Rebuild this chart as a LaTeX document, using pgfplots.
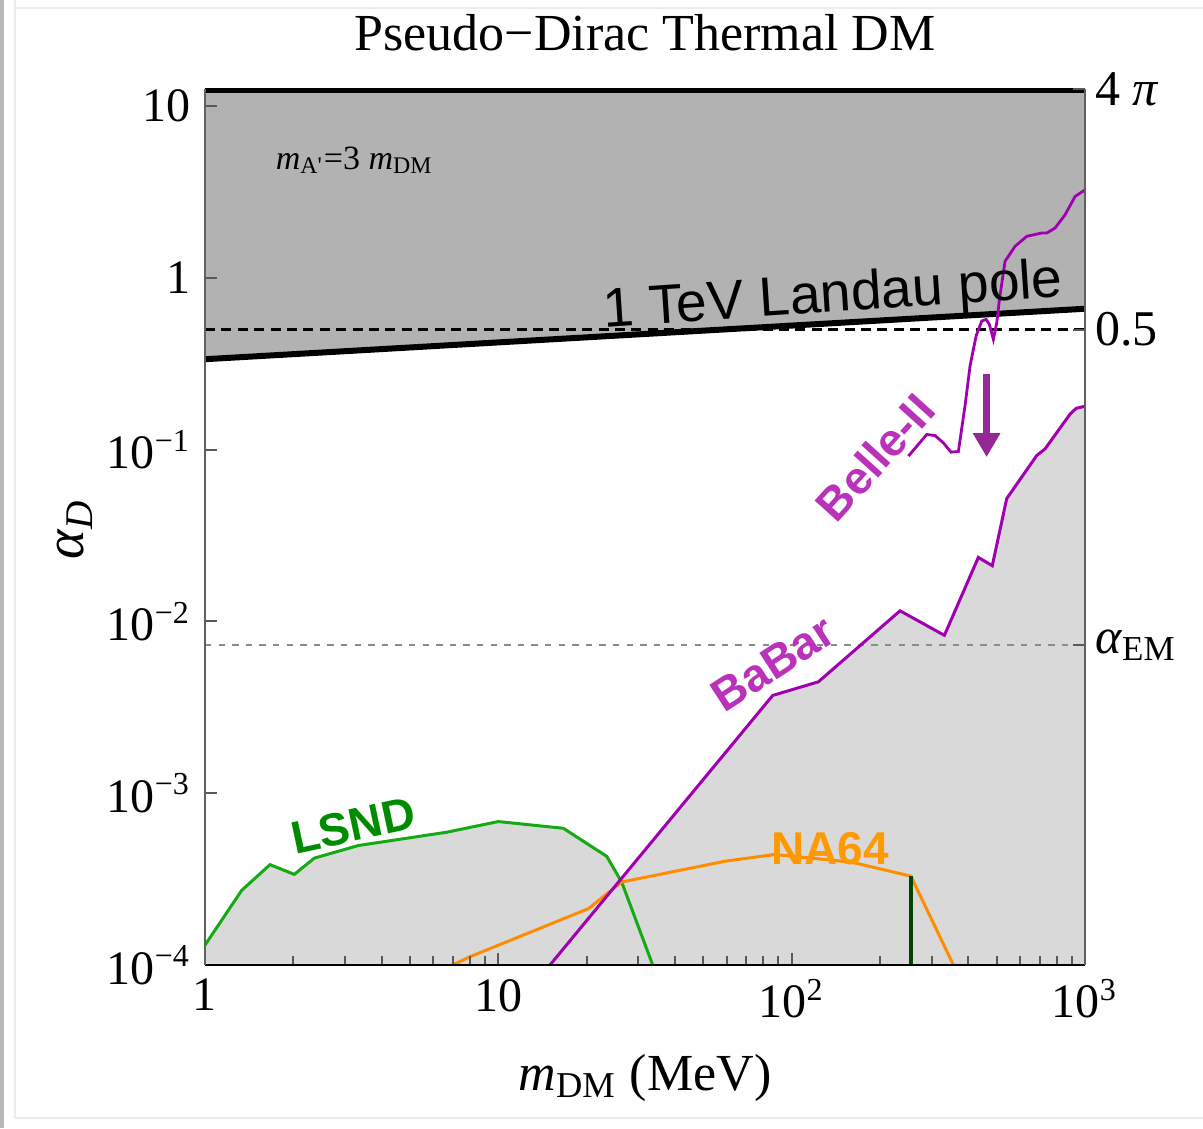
\documentclass[border=0pt]{standalone}
\usepackage{pgfplots}
\pgfplotsset{compat=1.18}
\usepackage{fontspec}
\setmainfont{Liberation Serif}
\newfontfamily\helv{Liberation Sans}
\usetikzlibrary{arrows.meta}

\definecolor{dkgray}{gray}{0.70}
\definecolor{ltgray}{gray}{0.85}
\definecolor{bbline}{RGB}{160,0,175}
\definecolor{bblabel}{RGB}{185,50,185}
\definecolor{lsndline}{RGB}{20,170,20}
\definecolor{lsndlabel}{RGB}{0,140,0}
\definecolor{naline}{RGB}{255,140,0}
\definecolor{nalabel}{RGB}{255,153,0}
\definecolor{arrowcol}{RGB}{150,40,150}
\definecolor{dkgreen}{RGB}{0,70,0}

\pgfplotstableread{
x y
1 1.306e-4
1.334 2.72e-4
1.666 3.84e-4
2.016 3.37e-4
2.359 4.19e-4
3.332 4.96e-4
6.67 5.93e-4
10.0 6.84e-4
16.66 6.25e-4
23.42 4.29e-4
26.34 3.04e-4
33.6 1e-4
}\lsnd

\pgfplotstableread{
x y
7.0 1.0e-4
8.0 1.117e-4
20.3 2.13e-4
26.3 3.04e-4
59.4 4.02e-4
87.4 4.40e-4
160 3.97e-4
255 3.29e-4
356 1e-4
}\nasix

\pgfplotstableread{
x y
15.0 1e-4
86.2 3.71e-3
123.3 4.45e-3
234.2 0.01153
331.7 8.30e-3
433 0.0236
483 0.0211
541 0.0519
685 0.0925
731 0.101
889.6 0.161
933 0.174
1000 0.179
}\babar

\pgfplotstableread{
x y
250.0 0.0917
288.8 0.1225
308.3 0.1208
329.0 0.1095
349.5 0.0967
370.2 0.0976
390.1 0.1804
405.8 0.3076
425.4 0.459
444.9 0.561
460.2 0.573
472.1 0.536
487.2 0.4387
500.4 0.548
510.8 0.748
534.1 1.25
577.8 1.527
633.4 1.745
712.3 1.824
741.0 1.824
790.7 1.950
855.2 2.328
925.1 2.976
1000 3.25
}\belle

\begin{document}
\begin{tikzpicture}
\path[use as bounding box] (-51.25pt,-40.75pt) rectangle (249.5pt,241.25pt);
\fill[gray!55] (-51.25pt,-40.75pt) rectangle (-50.25pt,241.25pt);
\draw[gray!15, line width=0.6pt] (-47.5pt,241.25pt) -- (-47.5pt,-38.3pt) -- (249.5pt,-38.3pt);
\draw[gray!15, line width=0.6pt] (-47.5pt,239.2pt) -- (249.5pt,239.2pt);

\begin{axis}[
  scale only axis, width=220pt, height=219pt,
  xmode=log, ymode=log,
  xmin=1, xmax=1000, ymin=1e-4, ymax=12.566,
  clip mode=individual,
  axis on top,
  separate axis lines,
  x axis line style={black, line width=0.7pt},
  y axis line style={gray!75!black, line width=0.5pt},
  xtick={1,10,100,1000},
  xticklabels={1,10,10\textsuperscript{2},10\textsuperscript{3}},
  ytick={1e-4,1e-3,1e-2,1e-1,1,10},
  yticklabels={10\textsuperscript{−4},10\textsuperscript{−3},10\textsuperscript{−2},10\textsuperscript{−1},1,10},
  xtick pos=left, ytick pos=left,
  yminorticks=false,
  tick align=inside,
  major tick length=3pt, minor tick length=2.3pt,
  tick style={gray!70!black, line width=0.5pt},
  ticklabel style={font=\fontsize{12}{14}\selectfont},
]
% dark gray Landau region
\addplot[fill=dkgray, draw=none] coordinates {(1,0.336) (1000,0.661) (1000,12.566) (1,12.566)} -- cycle;
% light gray excluded regions
\addplot[fill=ltgray, draw=none] table[x=x,y=y] {\lsnd} -- (axis cs:1,1e-4) -- cycle;
\addplot[fill=ltgray, draw=none] table[x=x,y=y] {\nasix} -- cycle;
\addplot[fill=ltgray, draw=none] table[x=x,y=y] {\babar} -- (axis cs:1000,1e-4) -- cycle;
% reference lines
\addplot[black, line width=0.8pt, dash pattern=on 2.5pt off 1.6pt] coordinates {(1,0.5) (1000,0.5)};
\addplot[gray!90, line width=0.7pt, dash pattern=on 1.6pt off 1.8pt] coordinates {(1,0.0072974) (1000,0.0072974)};
\addplot[black, line width=1.5pt] coordinates {(1,0.336) (1000,0.661)};
\addplot[black, line width=2pt] coordinates {(1,12.566) (1000,12.566)};
% curves
\addplot[lsndline, line width=0.75pt] table[x=x,y=y] {\lsnd};
\addplot[naline, line width=0.75pt] table[x=x,y=y] {\nasix};
\addplot[bbline, line width=0.75pt] table[x=x,y=y] {\babar};
\addplot[bbline, line width=0.7pt] table[x=x,y=y] {\belle};
\addplot[dkgreen, line width=1.1pt] coordinates {(255,1e-4) (255,3.29e-4)};
% arrow
\draw[arrowcol, line width=1.6pt, -{Triangle[width=6.5pt,length=6pt]}] (axis cs:462,0.275) -- (axis cs:462,0.0905);
% labels
\node[anchor=west, inner sep=0pt, font=\fontsize{8.5}{10}\selectfont] at (axis cs:1.733,4.83) {\textit{m}\textsubscript{A\textquotesingle}=3 \textit{m}\textsubscript{DM}};
\node[rotate=3.8, font=\helv\fontsize{13.8}{16}\selectfont] at (axis cs:138.4,0.765) {1 TeV Landau pole};
\node[rotate=48, text=bblabel, font=\helv\bfseries\fontsize{11.5}{13}\selectfont] at (axis cs:192.5,0.0905) {Belle-II};
\node[rotate=33, text=bblabel, font=\helv\bfseries\fontsize{11.5}{13}\selectfont] at (axis cs:86.4,5.71e-3) {BaBar};
\node[rotate=12, text=lsndlabel, font=\helv\bfseries\fontsize{11.5}{13}\selectfont] at (axis cs:3.196,6.48e-4) {LSND};
\node[text=nalabel, font=\helv\bfseries\fontsize{11.5}{13}\selectfont] at (axis cs:135.2,4.77e-4) {NA64};
% title and axis labels
\node[font=\fontsize{13}{15}\selectfont] at (axis description cs:0.5,1.064) {Pseudo−Dirac Thermal DM};
\node[font=\fontsize{13}{15}\selectfont] at (axis description cs:0.5,-0.129) {\textit{m}\textsubscript{DM} (MeV)};
\node[rotate=90, font=\fontsize{14}{16}\selectfont] at (axis description cs:-0.148,0.497) {\textit{α}\textsubscript{\textit{D}}};
\end{axis}

\begin{axis}[
  scale only axis, width=220pt, height=219pt,
  xmode=log, ymode=log,
  xmin=1, xmax=1000, ymin=1e-4, ymax=12.566,
  axis x line=none, axis y line*=right,
  y axis line style={gray!75!black, line width=0.5pt},
  ytick={0.0072974,0.5,12.566},
  yticklabels={\textit{α}\textsubscript{EM},0.5,4 \textit{π}},
  yminorticks=false,
  tick align=inside,
  major tick length=3pt,
  tick style={gray!70!black, line width=0.5pt},
  yticklabel style={font=\fontsize{12.5}{14}\selectfont, anchor=west, xshift=-1pt},
]
\end{axis}
\end{tikzpicture}
\end{document}
